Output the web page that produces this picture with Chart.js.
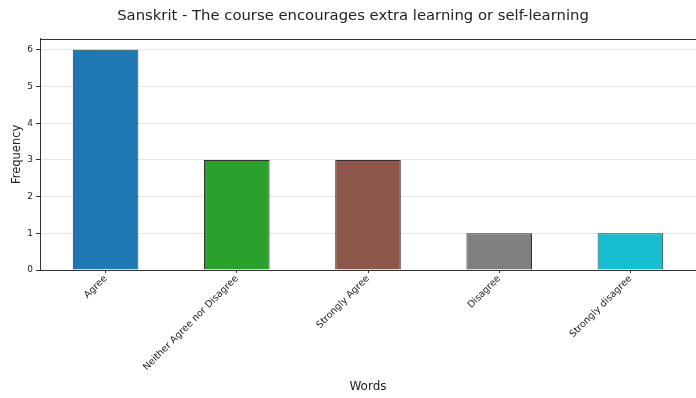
<!DOCTYPE html>
<html><head><meta charset="utf-8">
<script src="https://cdn.jsdelivr.net/npm/chart.js@4/dist/chart.umd.min.js"></script>
<style>html,body{margin:0;padding:0;background:#fff}#wrap{width:696px;height:398px}</style>
</head><body><div id="wrap"><canvas id="c" width="696" height="398"></canvas></div>
<script>
const categories = ["Agree", "Neither Agree nor Disagree", "Strongly Agree", "Disagree", "Strongly disagree"];
const frequencies = [6, 3, 3, 1, 1];
const barColors = ["#1f77b4", "#2ca02c", "#8c564b", "#7f7f7f", "#17becf"];
const yTicks = [0, 1, 2, 3, 4, 5, 6];
const titleText = "Sanskrit - The course encourages extra learning or self-learning";

const frame = {
  id: 'frame',
  afterDatasetsDraw(chart) {
    const a = chart.chartArea, ctx = chart.ctx;
    ctx.save(); ctx.strokeStyle = '#333'; ctx.lineWidth = 1;
    ctx.strokeRect(Math.round(a.left) + 0.5, Math.round(a.top) + 0.5, Math.round(a.right - a.left), Math.round(a.bottom - a.top));
    ctx.restore();
  }
};
const FONT = "'DejaVu Sans', sans-serif";
new Chart(document.getElementById('c'), {
  type: 'bar',
  data: { labels: categories, datasets: [{ data: frequencies, backgroundColor: barColors, borderColor: '#333', borderWidth: 1, barPercentage: 0.5, categoryPercentage: 1 }] },
  options: {
    responsive: false, animation: false,
    layout: { padding: { left: 10, right: 0, top: 0, bottom: 4 } },
    plugins: {
      legend: { display: false }, tooltip: { enabled: false },
      title: { display: true, text: titleText, color: '#222', font: { family: FONT, size: 14.8, weight: 'normal' }, padding: { top: 7, bottom: 14 } }
    },
    scales: {
      x: {
        offset: true,
        grid: { display: true, offset: false, drawOnChartArea: false, tickColor: '#333', tickLength: 3 },
        border: { color: '#333' },
        ticks: { color: '#222', font: { family: FONT, size: 9.5 }, minRotation: 45, maxRotation: 45, padding: 0 },
        title: { display: true, text: 'Words', color: '#222', font: { family: FONT, size: 12 }, padding: { top: 0, bottom: 0 } },
        afterFit(s) { s.height = 124; }
      },
      y: {
        min: 0, max: 6.3,
        afterBuildTicks(s) { s.ticks = yTicks.map(v => ({ value: v })); },
        grid: { color: 'rgba(0,0,0,0.1)', tickColor: '#333', tickLength: 4 },
        border: { color: '#333' },
        ticks: { color: '#222', font: { family: FONT, size: 9 }, padding: 3 },
        title: { display: true, text: 'Frequency', color: '#222', font: { family: FONT, size: 11.5 }, padding: { top: 0, bottom: 2 } },
        afterFit(s) { s.width = 30; }
      }
    }
  },
  plugins: [frame]
});
</script></body></html>
